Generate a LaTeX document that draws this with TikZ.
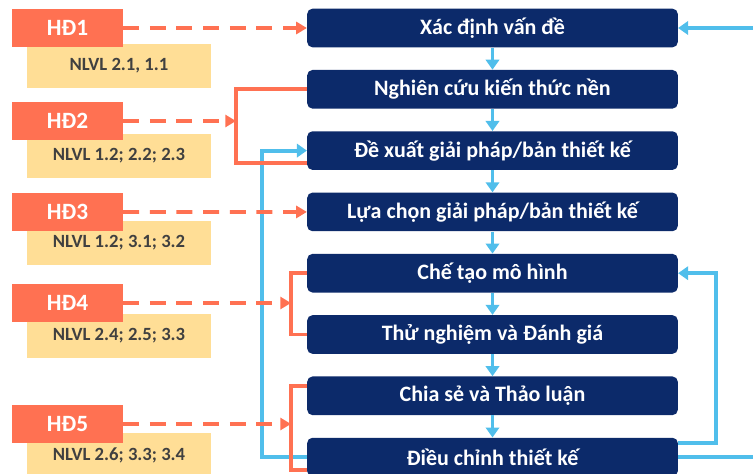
\documentclass[tikz,border=0pt]{standalone}
\usepackage{fontspec}
\setmainfont{Carlito}
\usetikzlibrary{arrows.meta, calc, positioning}
\definecolor{navy}{RGB}{12,42,106}
\definecolor{coral}{RGB}{255,113,82}
\definecolor{skyblue}{RGB}{80,190,235}
\definecolor{sand}{RGB}{255,222,150}
\definecolor{ink}{RGB}{64,64,64}
\tikzset{
  stagebox/.style={fill=navy, rounded corners=4pt, minimum width=278pt, minimum height=29pt,
    inner sep=0pt, text=white, font=\bfseries\fontsize{16.5}{18}\selectfont},
  actbox/.style={fill=coral, minimum width=83pt, minimum height=29pt, inner sep=0pt,
    text=white, font=\bfseries\fontsize{17.5}{19}\selectfont},
  compbox/.style={fill=sand, minimum width=138pt, minimum height=33pt, inner sep=0pt,
    text=ink, font=\bfseries\fontsize{14}{16}\selectfont},
  flow/.style={draw=skyblue, line width=2.9pt, -{Triangle[length=7.5pt,width=10pt]}},
  dasharrow/.style={draw=coral, line width=2.9pt, dash pattern=on 12pt off 8pt,
    -{Triangle[length=8pt,width=9pt]}},
  bracket/.style={draw=coral, line width=2.9pt}
}
\begin{document}
\begin{tikzpicture}[x=0.75pt, y=-0.75pt]
  \useasboundingbox (0,0) rectangle (753,474);

  % stages of the design process
  \foreach \t [count=\i] in {Xác định vấn đề, Nghiên cứu kiến thức nền,
      Đề xuất giải pháp/bản thiết kế, Lựa chọn giải pháp/bản thiết kế,
      Chế tạo mô hình, Thử nghiệm và Đánh giá, Chia sẻ và Thảo luận,
      Điều chỉnh thiết kế}
    \node[stagebox] (s\i) at (492.5, {28+(\i-1)*61.3}) {\t};

  \foreach \i [evaluate=\i as \j using int(\i+1)] in {1,...,7}
    \draw[flow] (s\i) -- (s\j);

  % activities and competences
  \node[compbox] (n1) at (119,66) {NLVL 2.1, 1.1};
  \node[compbox] (n2) at (119,156) {NLVL 1.2; 2.2; 2.3};
  \node[compbox] (n3) at (119,243) {NLVL 1.2; 3.1; 3.2};
  \node[compbox] (n4) at (119,336) {NLVL 2.4; 2.5; 3.3};
  \node[compbox] (n5) at (119,455) {NLVL 2.6; 3.3; 3.4};

  \node[actbox] (h1) at (67.5,28) {HĐ1};
  \node[actbox] (h2) at (67.5,121) {HĐ2};
  \node[actbox] (h3) at (67.5,212) {HĐ3};
  \node[actbox] (h4) at (67.5,303) {HĐ4};
  \node[actbox] (h5) at (67.5,424) {HĐ5};

  % feedback loops
  \coordinate (lb) at (262,300);
  \coordinate (rb) at (716,350);
  \coordinate (rt) at (775,250);
  \draw[flow] (s8.west) -| (lb) |- (s3.west);
  \draw[flow] ($(s8.east)+(0,-14)$) -| (rb) |- (s5.east);
  \draw[flow] (s8.east) -| (rt) |- (s1.east);

  % links from activities
  \coordinate (k2) at (236,121);
  \coordinate (k4) at (291,303);
  \coordinate (k5) at (291,424);
  \draw[dasharrow] (h1) -- (s1);
  \draw[dasharrow] (h2) -- (k2);
  \draw[dasharrow] (h3) -- (s4);
  \draw[dasharrow] (h4) -- (k4);
  \draw[dasharrow] (h5) -- (k5);
  \draw[bracket] (s2.west) -| (k2) |- ($(s3.west)+(0,12)$);
  \draw[bracket] (s5.west) -| (k4) |- (s6.west);
  \draw[bracket] ($(s7.west)+(0,-10)$) -| (k5) |- ($(s8.west)+(0,13)$);
\end{tikzpicture}
\end{document}
